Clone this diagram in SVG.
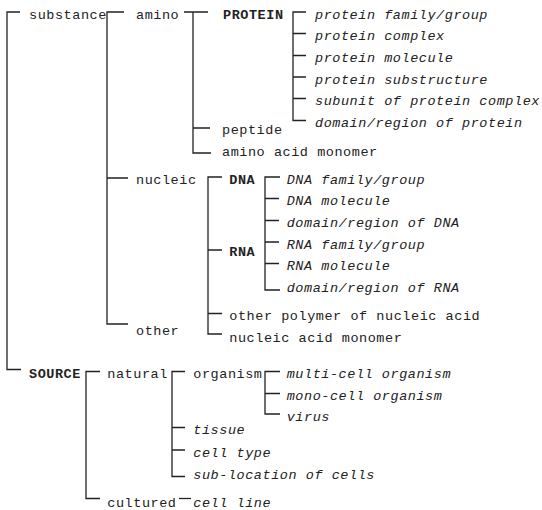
<svg xmlns="http://www.w3.org/2000/svg" width="542" height="510" viewBox="0 0 542 510">
<style>
text{font-family:"Liberation Mono","Courier New",monospace;font-size:13.5px;letter-spacing:0.55px;fill:#222}
.b{font-weight:bold}
.i{font-style:italic}
#connectors path{fill:none;stroke:#222;stroke-width:1.3}
</style>
<rect width="542" height="510" fill="#fff"/>
<g id="connectors">
<path d="M20,12 H7 V369.5 H21"/>
<path d="M124,12 H107 V324 H128 M107,178 H128"/>
<path d="M184,12 H208 M193,12 V153 H211 M193,128 H210"/>
<path d="M306,12 H293 V120.5 H306 M293,33.5 H306 M293,55.5 H306 M293,77 H306 M293,98.5 H306"/>
<path d="M222,177 H208 V334 H222 M208,250 H222 M208,313.5 H222"/>
<path d="M280,177 H265 V290 H280 M265,198.5 H279 M265,220.5 H279 M265,242 H279 M265,263.5 H279"/>
<path d="M100,371.5 H86 V498.5 H100"/>
<path d="M185,371.5 H172 V476.5 H185 M172,427.5 H185 M172,450 H185"/>
<path d="M280,371.5 H265 V414 H280 M265,393.5 H280"/>
<path d="M179,498.5 H191"/>
</g>
<g id="substance"><text x="29" y="18.6">substance</text></g>
<g id="amino"><text x="136" y="18.6">amino</text></g>
<g id="protein"><text class="b" x="223" y="18.6">PROTEIN</text></g>
<g id="protein-family"><text class="i" x="315" y="18.6">protein family/group</text></g>
<g id="protein-complex"><text class="i" x="315" y="40.3">protein complex</text></g>
<g id="protein-molecule"><text class="i" x="315" y="61.9">protein molecule</text></g>
<g id="protein-substructure"><text class="i" x="315" y="83.6">protein substructure</text></g>
<g id="subunit"><text class="i" x="315" y="105.3">subunit of protein complex</text></g>
<g id="protein-domain"><text class="i" x="315" y="126.9">domain/region of protein</text></g>
<g id="peptide"><text x="222" y="133.6">peptide</text></g>
<g id="amino-acid-monomer"><text x="222" y="155.6">amino acid monomer</text></g>
<g id="nucleic"><text x="136" y="183.6">nucleic</text></g>
<g id="dna"><text class="b" x="229.3" y="183.6">DNA</text></g>
<g id="rna"><text class="b" x="229.3" y="255.6">RNA</text></g>
<g id="dna-family"><text class="i" x="286.7" y="183.6">DNA family/group</text></g>
<g id="dna-molecule"><text class="i" x="286.7" y="205.3">DNA molecule</text></g>
<g id="dna-domain"><text class="i" x="286.7" y="226.9">domain/region of DNA</text></g>
<g id="rna-family"><text class="i" x="286.7" y="248.6">RNA family/group</text></g>
<g id="rna-molecule"><text class="i" x="286.7" y="270.3">RNA molecule</text></g>
<g id="rna-domain"><text class="i" x="286.7" y="291.9">domain/region of RNA</text></g>
<g id="other-polymer"><text x="229.3" y="320.3">other polymer of nucleic acid</text></g>
<g id="nucleic-acid-monomer"><text x="229.3" y="341.6">nucleic acid monomer</text></g>
<g id="other"><text x="136" y="335.3">other</text></g>
<g id="source"><text class="b" x="29" y="377.6">SOURCE</text></g>
<g id="natural"><text x="107.3" y="377.6">natural</text></g>
<g id="organism"><text x="193.3" y="377.6">organism</text></g>
<g id="multi-cell"><text class="i" x="286.7" y="377.9">multi-cell organism</text></g>
<g id="mono-cell"><text class="i" x="286.7" y="399.6">mono-cell organism</text></g>
<g id="virus"><text class="i" x="286.7" y="421.1">virus</text></g>
<g id="tissue"><text class="i" x="193.3" y="434.1">tissue</text></g>
<g id="cell-type"><text class="i" x="193.3" y="456.6">cell type</text></g>
<g id="sub-location"><text class="i" x="193.3" y="478.6">sub-location of cells</text></g>
<g id="cultured"><text x="107.3" y="506.6">cultured</text></g>
<g id="cell-line"><text class="i" x="193.3" y="506.6">cell line</text></g>
</svg>
